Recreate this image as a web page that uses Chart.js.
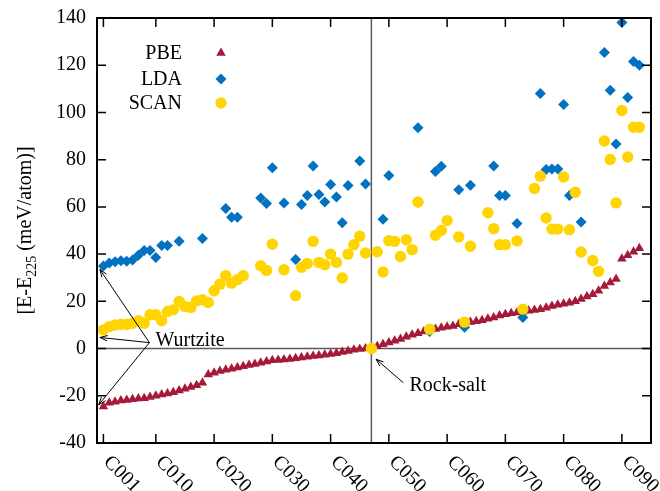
<!DOCTYPE html>
<html>
<head>
<meta charset="utf-8">
<script src="https://cdn.jsdelivr.net/npm/chart.js@4.4.0/dist/chart.umd.min.js"></script>
<style>
  html, body { margin: 0; padding: 0; background: #fff; }
</style>
</head>
<body>
<canvas id="chart" width="660" height="491"></canvas>
<script>
// compounds C001 .. C093, ordered by PBE energy
const categories = [];
for (let i = 1; i <= 93; i++) categories.push("C" + String(i).padStart(3, "0"));

const tickIndex = [1, 10, 20, 30, 40, 50, 60, 70, 80, 90];
const tickLabels = ["C001", "C010", "C020", "C030", "C040", "C050", "C060", "C070", "C080", "C090"];
const yTicks = [-40, -20, 0, 20, 40, 60, 80, 100, 120, 140];

// E - E225 in meV/atom (null = no point)
const pbe = [
  -24.5, -23, -22.5, -22, -21.8, -21.5, -21.2, -21, -20.5, -20,
  -19.5, -19, -18.5, -17.8, -17, -16.3, -15.5, -14.5, -11, -10.2,
  -9.5, -9, -8.5, -8, -7.5, -7, -6.5, -6, -5.5, -5,
  -4.8, -4.6, -4.4, -4.1, -3.8, -3.5, -3.2, -2.9, -2.6, -2.3,
  -2, -1.5, -1, -0.5, -0.2, 0, 0, 1, 1.8, 2.6,
  3.3, 4, 5, 5.8, 6.5, 7.2, 7.8, 8.3, 8.8, 9.2,
  9.6, 10.3, 10.8, 11.2, 11.6, 12, 12.6, 13.2, 14, 14.5,
  15, 15.3, 15.6, 16, 16.3, 16.7, 17.3, 18, 18.6, 19,
  19.4, 20, 21, 22, 23, 24.5, 26.5, 28, 29.5, 38,
  39.5, 41, 42.5
];
const lda = [
  35, 36.2, 36.8, 37.2, 37, 37.5, 39.5, 41.5, 41.5, 38.6,
  43.6, 43.7, null, 45.4, null, null, null, 46.6, null, null,
  null, 59.3, 55.6, 55.6, null, null, null, 63.8, 61.4, 76.6,
  null, 61.7, null, 37.7, 61, 64.8, 77.3, 65.3, 62.1, 69.5,
  64.2, 53.3, 69.1, null, 79.4, 69.7, 0, null, 54.8, 73.3,
  null, null, null, null, 93.5, null, 7.2, 75, 77.2, null,
  null, 67.3, 9, 69.2, null, null, null, 77.3, 64.8, 64.8,
  null, 53, 13.2, null, null, 108, 75.8, 76.1, 76.1, 103.4,
  64.8, null, 53.6, null, null, null, 125.4, 109.4, 86.6, 138.1,
  106.3, 121.6, 120
];
const scan = [
  7.9, 9.3, 10, 10.3, 10.2, 10.7, 11.8, 10.7, 14.3, 14.3,
  11.8, 15.7, 16.4, 20, 17.8, 17.4, 20.2, 20.7, 19.5, 24.5,
  27.3, 30.9, 27.7, 29.2, 30.9, null, null, 35.1, 33.1, 44.2,
  null, 33.4, null, 22.4, 34.4, 36, 45.4, 36.5, 35.5, 40,
  36.5, 29.9, 40, 44, 47.6, 40.5, 0, 41, 32.4, 45.7,
  45.4, 39, 46.1, 41.9, 62.1, null, 8.2, 48, 50, 54.2,
  null, 47.3, 11.2, 43.3, null, null, 57.5, 50.8, 44, 44,
  null, 45.6, 16.7, null, 67.8, 73, 55.3, 50.6, 50.6, 72.7,
  50.3, 66.2, 40.9, null, 37.3, 32.7, 87.9, 80.1, 61.7, 100.8,
  81.1, 93.7, 93.7
];

const rockSalt = 47;

const colPBE = "#a51a38";
const colLDA = "#0072c0";
const colSCAN = "#ffd400";
const FONT = '20px "Liberation Serif", "Times New Roman", serif';

function toPoints(arr) {
  const out = [];
  arr.forEach((v, i) => { if (v !== null) out.push({ x: i + 1, y: v }); });
  return out;
}

function marker(ctx, style, x, y, r, color) {
  ctx.fillStyle = color;
  ctx.beginPath();
  if (style === "triangle") {
    ctx.moveTo(x, y - r);
    ctx.lineTo(x + r * Math.sin(2 * Math.PI / 3), y - r * Math.cos(2 * Math.PI / 3));
    ctx.lineTo(x + r * Math.sin(4 * Math.PI / 3), y - r * Math.cos(4 * Math.PI / 3));
  } else if (style === "rectRot") {
    ctx.moveTo(x, y - r); ctx.lineTo(x + r, y); ctx.lineTo(x, y + r); ctx.lineTo(x - r, y);
  } else {
    ctx.arc(x, y, r, 0, Math.PI * 2);
  }
  ctx.closePath();
  ctx.fill();
}

function arrow(ctx, x1, y1, x2, y2) {
  ctx.beginPath(); ctx.moveTo(x1, y1); ctx.lineTo(x2, y2); ctx.stroke();
  const a = Math.atan2(y2 - y1, x2 - x1), L = 8, w = 0.35;
  ctx.beginPath();
  ctx.moveTo(x2 - L * Math.cos(a - w), y2 - L * Math.sin(a - w));
  ctx.lineTo(x2, y2);
  ctx.lineTo(x2 - L * Math.cos(a + w), y2 - L * Math.sin(a + w));
  ctx.stroke();
}

const gnuplotLook = {
  id: "gnuplotLook",
  beforeDatasetsDraw(chart) {
    const { ctx, chartArea: a, scales: { x, y } } = chart;
    ctx.save();
    ctx.strokeStyle = "#5a5a5a";
    ctx.lineWidth = 1.5;
    ctx.beginPath();
    ctx.moveTo(a.left, y.getPixelForValue(0));
    ctx.lineTo(a.right, y.getPixelForValue(0));
    ctx.moveTo(x.getPixelForValue(rockSalt), a.top);
    ctx.lineTo(x.getPixelForValue(rockSalt), a.bottom);
    ctx.stroke();
    ctx.restore();
  },
  afterDatasetsDraw(chart) {
    const { ctx, chartArea: a, scales: { x, y } } = chart;
    ctx.save();
    ctx.strokeStyle = "#000";
    ctx.fillStyle = "#000";
    ctx.lineWidth = 1.5;

    // ticks (inside, mirrored)
    ctx.beginPath();
    tickIndex.forEach(i => {
      const px = x.getPixelForValue(i);
      ctx.moveTo(px, a.bottom); ctx.lineTo(px, a.bottom - 9);
      ctx.moveTo(px, a.top); ctx.lineTo(px, a.top + 9);
    });
    yTicks.forEach(v => {
      const py = y.getPixelForValue(v);
      ctx.moveTo(a.left, py); ctx.lineTo(a.left + 9, py);
      ctx.moveTo(a.right, py); ctx.lineTo(a.right - 9, py);
    });
    ctx.stroke();

    // frame
    ctx.lineWidth = 2;
    ctx.strokeRect(a.left, a.top, a.right - a.left, a.bottom - a.top);

    // y tick labels
    ctx.font = FONT;
    ctx.textAlign = "right";
    ctx.textBaseline = "middle";
    yTicks.forEach(v => ctx.fillText(String(v), a.left - 11, y.getPixelForValue(v)));

    // x tick labels, rotated downwards
    ctx.textAlign = "left";
    ctx.textBaseline = "middle";
    tickIndex.forEach((i, k) => {
      ctx.save();
      ctx.translate(x.getPixelForValue(i) + 3, a.bottom + 16);
      ctx.rotate(Math.PI / 4);
      ctx.fillText(tickLabels[k], 0, 0);
      ctx.restore();
    });

    // y title with subscript
    ctx.save();
    ctx.translate(24, (a.top + a.bottom) / 2);
    ctx.rotate(-Math.PI / 2);
    const p1 = "[E-E", sub = "225", p2 = " (meV/atom)]";
    ctx.font = FONT;
    const w1 = ctx.measureText(p1).width, w3 = ctx.measureText(p2).width;
    ctx.font = '14px "Liberation Serif", serif';
    const w2 = ctx.measureText(sub).width;
    let sx = -(w1 + w2 + w3) / 2;
    ctx.textAlign = "left";
    ctx.textBaseline = "alphabetic";
    ctx.font = FONT;
    ctx.fillText(p1, sx, 7); sx += w1;
    ctx.font = '14px "Liberation Serif", serif';
    ctx.fillText(sub, sx, 12); sx += w2;
    ctx.font = FONT;
    ctx.fillText(p2, sx, 7);
    ctx.restore();

    // legend
    const leg = [["PBE", "triangle", colPBE, 53], ["LDA", "rectRot", colLDA, 79], ["SCAN", "circle", colSCAN, 103]];
    ctx.font = FONT;
    ctx.textAlign = "right";
    ctx.textBaseline = "middle";
    leg.forEach(([t, s, c, yy]) => {
      ctx.fillStyle = "#000";
      ctx.fillText(t, 182, yy + 1);
      marker(ctx, s, 221, yy, s === "circle" ? 5.7 : 5.5, c);
    });

    // annotations
    ctx.fillStyle = "#000";
    ctx.strokeStyle = "#000";
    ctx.lineWidth = 1;
    const tx = x.getPixelForValue(8.9), ty = y.getPixelForValue(2.5);
    arrow(ctx, tx, ty, x.getPixelForValue(0.4), y.getPixelForValue(33.5));
    arrow(ctx, tx, ty, x.getPixelForValue(0.4), y.getPixelForValue(4.7));
    arrow(ctx, tx, ty, x.getPixelForValue(0.2), y.getPixelForValue(-23.8));
    ctx.textAlign = "left";
    ctx.textBaseline = "middle";
    ctx.fillText("Wurtzite", tx + 6, ty - 2);

    const rx = x.getPixelForValue(52.5), ry = y.getPixelForValue(-14.5);
    arrow(ctx, rx, ry, x.getPixelForValue(47.8), y.getPixelForValue(-4.5));
    ctx.fillText("Rock-salt", rx + 6, ry + 3);
    ctx.restore();
  }
};

new Chart(document.getElementById("chart"), {
  type: "scatter",
  data: {
    datasets: [
      { label: "PBE", data: toPoints(pbe), pointStyle: "triangle", pointRadius: 5.5,
        backgroundColor: colPBE, borderColor: colPBE, borderWidth: 0, order: 3 },
      { label: "LDA", data: toPoints(lda), pointStyle: "rectRot", pointRadius: 5.5,
        backgroundColor: colLDA, borderColor: colLDA, borderWidth: 0, order: 2 },
      { label: "SCAN", data: toPoints(scan), pointStyle: "circle", pointRadius: 5.7,
        backgroundColor: colSCAN, borderColor: colSCAN, borderWidth: 0, order: 1 }
    ]
  },
  options: {
    responsive: false,
    animation: false,
    layout: { padding: { left: 97, top: 18, right: 9, bottom: 48 } },
    scales: {
      x: { type: "linear", min: -0.1, max: 95, display: false },
      y: { type: "linear", min: -40, max: 140, display: false }
    },
    plugins: {
      legend: { display: false },
      tooltip: { enabled: false }
    }
  },
  plugins: [gnuplotLook]
});
</script>
</body>
</html>
